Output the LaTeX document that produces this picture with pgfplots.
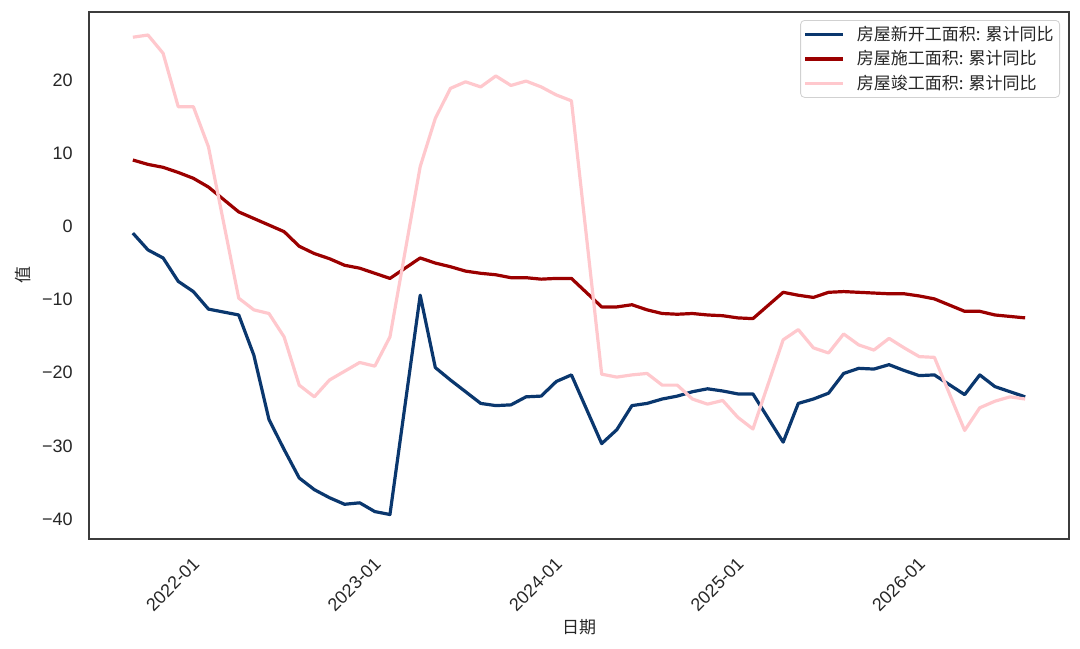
\documentclass[border=0pt]{standalone}
\usepackage{fontspec}
\setmainfont{Liberation Sans}
\newfontfamily\cjk{Noto Sans CJK SC}
\usepackage{pgfplots}
\usepackage{pgfplotstable}
\pgfplotsset{compat=1.18}
\definecolor{cblue}{RGB}{10,55,110}
\definecolor{cred}{RGB}{155,0,0}
\definecolor{cpink}{RGB}{255,200,205}
\definecolor{tc}{RGB}{38,38,38}
\definecolor{fc}{RGB}{60,60,60}

% t = months after 2022-01 (month-end), January missing each year
\pgfplotstableread{
t   new    constr  compl
-5  -0.9    9.1    25.9
-4  -3.2    8.5    26.2
-3  -4.3    8.1    23.7
-2  -7.5    7.4    16.4
-1  -8.9    6.6    16.4
0   -11.3   5.4    10.9
2   -12.1   2.0    -9.8
3   -17.6   1.1    -11.4
4   -26.4   0.2    -11.9
5   -30.5   -0.7   -15.1
6   -34.4   -2.7   -21.7
7   -36.0   -3.7   -23.3
8   -37.1   -4.4   -21.0
9   -38.0   -5.3   -19.8
10  -37.8   -5.7   -18.6
11  -39.0   -6.4   -19.1
12  -39.4   -7.1   -15.1
14  -9.4    -4.3   8.2
15  -19.3   -5.0   14.8
16  -21.0   -5.5   18.9
17  -22.6   -6.1   19.8
18  -24.2   -6.4   19.1
19  -24.5   -6.6   20.6
20  -24.4   -7.0   19.3
21  -23.3   -7.0   19.9
22  -23.2   -7.2   19.1
23  -21.2   -7.1   18.0
24  -20.3   -7.1   17.2
26  -29.7   -11.0  -20.2
27  -27.8   -11.0  -20.6
28  -24.5   -10.7  -20.3
29  -24.2   -11.4  -20.1
30  -23.6   -11.9  -21.7
31  -23.2   -12.0  -21.7
32  -22.6   -11.9  -23.6
33  -22.2   -12.1  -24.3
34  -22.5   -12.2  -23.8
35  -22.9   -12.5  -26.1
36  -22.9   -12.6  -27.7
38  -29.5   -9.0   -15.5
39  -24.2   -9.4   -14.1
40  -23.6   -9.7   -16.6
41  -22.8   -9.0   -17.3
42  -20.1   -8.9   -14.7
43  -19.4   -9.0   -16.2
44  -19.5   -9.1   -16.9
45  -18.9   -9.2   -15.3
46  -19.7   -9.2   -16.6
47  -20.4   -9.5   -17.8
48  -20.3   -9.9   -17.9
50  -23.0   -11.6  -27.9
51  -20.3   -11.6  -24.8
52  -21.9   -12.1  -23.9
53  -22.6   -12.3  -23.3
54  -23.3   -12.5  -23.6
}\datatable

\begin{document}
\begin{tikzpicture}
\begin{axis}[
  scale only axis,
  width=490pt, height=263.5pt,
  xmin=-7.9, xmax=56.9, ymin=-42.75, ymax=29.35,
  axis line style={fc, line width=1pt},
  xtick={0,12,24,36,48},
  xticklabels={2022-01,2023-01,2024-01,2025-01,2026-01},
  ytick={-40,-30,-20,-10,0,10,20},
  yticklabels={−40,−30,−20,−10,0,10,20},
  major tick length=0pt,
  tick label style={font=\fontsize{9}{10}\selectfont, text=tc},
  xticklabel style={inner sep=0pt, xshift=-8.5pt, yshift=-8.5pt, rotate=45, anchor=north east},
  yticklabel style={inner sep=0pt, xshift=-8pt},
  xlabel={\cjk 日期}, ylabel={\cjk 值},
  label style={font=\fontsize{8.5}{10}\selectfont, text=tc},
  xlabel style={at={(axis description cs:0.5,-0.168)}, anchor=center},
  ylabel style={at={(axis description cs:-0.0673,0.5)}, anchor=center},
  legend cell align=left,
  legend image code/.code={\draw[#1] (0pt,0pt) -- (19pt,0pt);},
  legend style={at={(1,1)}, xshift=-4.5pt, yshift=-4pt, anchor=north east,
    font=\cjk\fontsize{8.5}{10}\selectfont, text=tc,
    draw=black!18, rounded corners=2pt, fill=white,
    inner xsep=1.5pt, inner ysep=1pt, row sep=0.25pt, column sep=4.5pt,
    nodes={inner sep=1.5pt, text height=7.5pt, text depth=1.5pt}},
  every axis plot/.append style={line width=1.6pt, line join=round},
]
\addplot[cblue] table[x=t, y=new] {\datatable};
\addlegendentry{房屋新开工面积: 累计同比}
\addplot[cred] table[x=t, y=constr] {\datatable};
\addlegendentry{房屋施工面积: 累计同比}
\addplot[cpink] table[x=t, y=compl] {\datatable};
\addlegendentry{房屋竣工面积: 累计同比}
\coordinate (sw) at (rel axis cs:0,0);
\coordinate (ne) at (rel axis cs:1,1);
\end{axis}
\pgfresetboundingbox
\path ([shift={(-44.5pt,-55pt)}]sw) rectangle ([shift={(5.5pt,6pt)}]ne);
\end{tikzpicture}
\end{document}
